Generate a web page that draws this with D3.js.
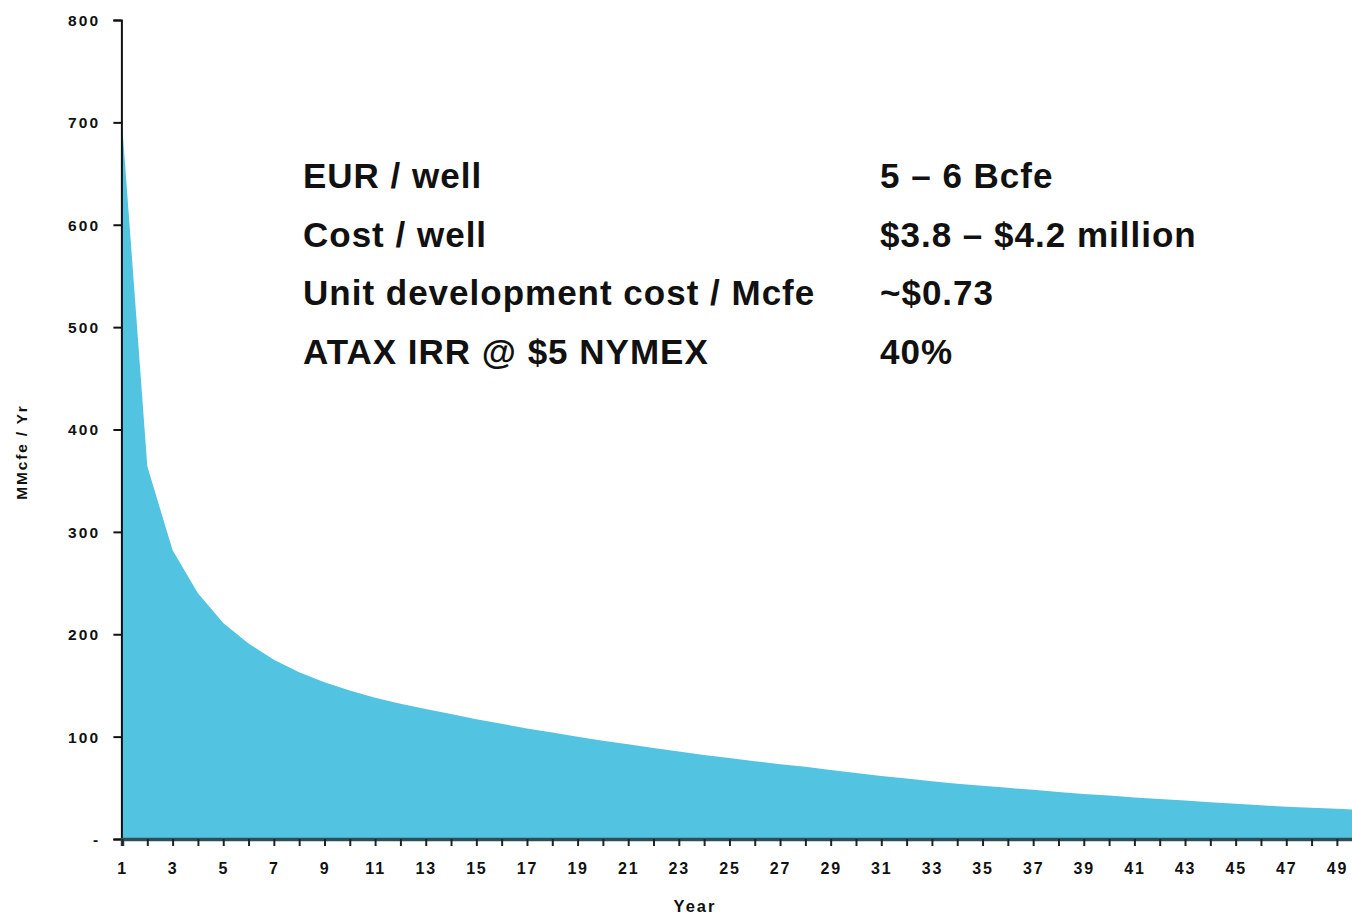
<!DOCTYPE html>
<html>
<head>
<meta charset="utf-8">
<script src="https://cdn.jsdelivr.net/npm/d3@7"></script>
<style>
  html, body { margin: 0; padding: 0; background: #ffffff; }
  svg { display: block; font-family: "Liberation Sans", Arial, sans-serif; }
</style>
</head>
<body>
<svg id="chart" width="1352" height="915"></svg>
<script>
// ---- data ----
const years = d3.range(1, 51);
const production = [
  700, 364, 282, 240, 211, 191, 175, 163, 153, 145,
  138, 132, 127, 122, 117, 112.5, 108, 104, 100, 96,
  92.5, 89, 85.5, 82, 79, 76, 73, 70.5, 67.5, 64.5,
  61.5, 59, 56.5, 54, 52, 50, 48, 46, 44, 42.5,
  40.5, 39, 37.5, 36, 34.5, 33, 31.5, 30.5, 29.5, 28.5
];
const yTicks = [0, 100, 200, 300, 400, 500, 600, 700, 800];
const xLabelYears = d3.range(1, 50, 2);
const infoLabels = ["EUR / well", "Cost / well", "Unit development cost / Mcfe", "ATAX IRR @ $5 NYMEX"];
const infoValues = ["5 \u2013 6 Bcfe", "$3.8 \u2013 $4.2 million", "~$0.73", "40%"];
const yTitle = "MMcfe / Yr";
const xTitle = "Year";

// ---- layout ----
const svg = d3.select("#chart");
const x0 = 122, yBase = 839, yTop = 20, step = 25.31;
const x = d3.scaleLinear().domain([1, 50]).range([x0, x0 + 49 * step]);
const y = d3.scaleLinear().domain([0, 800]).range([yBase, yTop]);

const data = years.map((yr, i) => ({ yr, v: production[i] }));

// area
svg.append("path")
  .datum(data)
  .attr("fill", "#52c4e1")
  .attr("d", d3.area().x(d => x(d.yr)).y0(y(0)).y1(d => y(d.v)));

// y axis
const yAxis = d3.axisLeft(y)
  .tickValues(yTicks)
  .tickSize(8)
  .tickPadding(13)
  .tickFormat(d => d === 0 ? "-" : d3.format("d")(d));
const gy = svg.append("g").attr("transform", `translate(${x0 - 0.6},0)`).call(yAxis);
gy.select(".domain").attr("stroke", "#111").attr("stroke-width", 2);
gy.selectAll(".tick line").attr("stroke", "#111").attr("stroke-width", 2);
gy.selectAll(".tick text")
  .attr("fill", "#111")
  .attr("font-size", 15.5)
  .attr("font-weight", "bold")
  .attr("letter-spacing", "2.2px")
  .attr("dy", "0.35em");

// x axis
const xAxis = d3.axisBottom(x)
  .tickValues(years)
  .tickSize(7)
  .tickPadding(17)
  .tickFormat(d => xLabelYears.includes(d) ? String(d) : "");
const gx = svg.append("g").attr("transform", `translate(0,${yBase})`).call(xAxis);
gx.select(".domain").attr("stroke", "#2f4f58").attr("stroke-width", 3.5);
gx.selectAll(".tick line").attr("stroke", "#222").attr("stroke-width", 2);
gx.selectAll(".tick text")
  .attr("fill", "#111")
  .attr("font-size", 16)
  .attr("font-weight", "bold")
  .attr("letter-spacing", "1.8px");

// axis titles
svg.append("text")
  .attr("transform", "translate(27,452) rotate(-90)")
  .attr("text-anchor", "middle")
  .attr("font-size", 15.5)
  .attr("font-weight", "bold")
  .attr("letter-spacing", "1.8px")
  .attr("fill", "#111")
  .text(yTitle);

svg.append("text")
  .attr("x", 695)
  .attr("y", 912)
  .attr("text-anchor", "middle")
  .attr("font-size", 16.5)
  .attr("font-weight", "bold")
  .attr("letter-spacing", "2px")
  .attr("fill", "#111")
  .text(xTitle);

// info block
const rowY = [188, 247, 305, 364];
const info = svg.append("g");
info.selectAll("text.lbl").data(infoLabels).join("text")
  .attr("class", "lbl")
  .attr("x", 303).attr("y", (d, i) => rowY[i])
  .attr("font-size", 35).attr("font-weight", "bold")
  .attr("letter-spacing", "1px")
  .attr("fill", "#111")
  .text(d => d);
info.selectAll("text.val").data(infoValues).join("text")
  .attr("class", "val")
  .attr("x", 880).attr("y", (d, i) => rowY[i])
  .attr("font-size", 35).attr("font-weight", "bold")
  .attr("letter-spacing", "1px")
  .attr("fill", "#111")
  .text(d => d);
</script>
</body>
</html>
